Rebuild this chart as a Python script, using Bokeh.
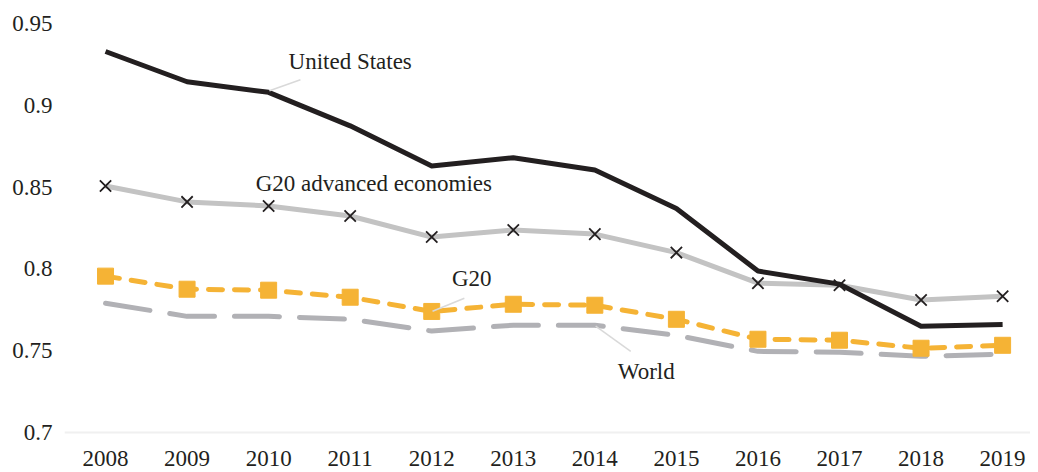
from bokeh.plotting import figure
from bokeh.models import Range1d, FixedTicker, Label, Span, ColumnDataSource
from bokeh.core.properties import value
from bokeh.embed import file_html
from bokeh.resources import INLINE

years = [2008, 2009, 2010, 2011, 2012, 2013, 2014, 2015, 2016, 2017, 2018, 2019]
year_labels = [str(y) for y in years]
united_states = [0.933, 0.9145, 0.908, 0.8875, 0.863, 0.868, 0.8605, 0.837, 0.7987, 0.7907, 0.765, 0.766]
g20_advanced = [0.8507, 0.841, 0.8385, 0.8324, 0.8195, 0.8238, 0.8213, 0.810, 0.7913, 0.790, 0.781, 0.7833]
g20 = [0.7956, 0.7876, 0.787, 0.7827, 0.774, 0.7784, 0.7778, 0.7692, 0.757, 0.7564, 0.7515, 0.7533]
world = [0.779, 0.771, 0.771, 0.7692, 0.762, 0.7656, 0.7656, 0.7594, 0.7496, 0.749, 0.7466, 0.7478]
y_ticks = [0.7, 0.75, 0.8, 0.85, 0.9, 0.95]
y_tick_labels = ["0.7", "0.75", "0.8", "0.85", "0.9", "0.95"]

FONT = "Liberation Serif"
INK = "#231f20"

# the frame extends below 0.7 so that the year labels sit inside it
p = figure(width=1030, height=472, output_backend="svg", toolbar_location=None,
           x_range=Range1d(2007.497, 2019.342), y_range=Range1d(0.6755, 0.955),
           min_border_left=64, min_border_right=0, min_border_top=15, min_border_bottom=0)
p.outline_line_color = None
p.xgrid.visible = False
p.ygrid.visible = False
p.xaxis.visible = False

p.yaxis.ticker = FixedTicker(ticks=y_ticks)
p.yaxis.major_label_overrides = {t: l for t, l in zip(y_ticks, y_tick_labels)}
p.yaxis.axis_line_color = None
p.yaxis.major_tick_line_color = None
p.yaxis.minor_tick_line_color = None
p.yaxis.major_label_text_font = FONT
p.yaxis.major_label_text_font_size = "23px"
p.yaxis.major_label_text_color = INK
p.yaxis.major_label_standoff = 6

# horizontal axis line at the bottom of the value range
p.add_layout(Span(location=y_ticks[0], dimension="width", line_color="#f0f0f0", line_width=2))

# year labels below the axis line
ysrc = ColumnDataSource(dict(x=years, y=[y_ticks[0]] * len(years), t=year_labels))
p.text(x="x", y="y", text="t", source=ysrc, y_offset=26,
       text_align="center", text_baseline="middle",
       text_font=value(FONT), text_font_size="23px", text_color=INK)

# World
p.line(years, world, line_color="#b1b1b5", line_width=5, line_dash="45 20", line_cap="round")
# G20
p.line(years, g20, line_color="#f5b335", line_width=5, line_dash="14 12", line_cap="round")
p.scatter(years, g20, marker="square", size=16, fill_color="#f5b335", line_color="#f5b335")
# G20 advanced
p.line(years, g20_advanced, line_color="#c3c3c3", line_width=5)
p.scatter(years, g20_advanced, marker="x", size=16, line_color=INK, line_width=1.8)
# United States
p.line(years, united_states, line_color=INK, line_width=5, line_join="round")

# leader lines
p.segment(x0=[2010.01, 2012.01, 2014.01], y0=[0.909, 0.7741, 0.765],
          x1=[2010.39, 2012.40, 2014.44], y1=[0.9157, 0.7821, 0.7496],
          line_color="#d9d9d9", line_width=1.5)

label_kw = dict(text_font=FONT, text_font_size="23px", text_color=INK,
                text_baseline="middle", text_align="center")
p.add_layout(Label(x=2011.0, y=0.9267, text="United States", **label_kw))
p.add_layout(Label(x=2011.29, y=0.852, text="G20 advanced economies", **label_kw))
p.add_layout(Label(x=2012.49, y=0.7944, text="G20", **label_kw))
p.add_layout(Label(x=2014.63, y=0.7374, text="World", **label_kw))

open("out.html", "w").write(file_html(p, INLINE))
